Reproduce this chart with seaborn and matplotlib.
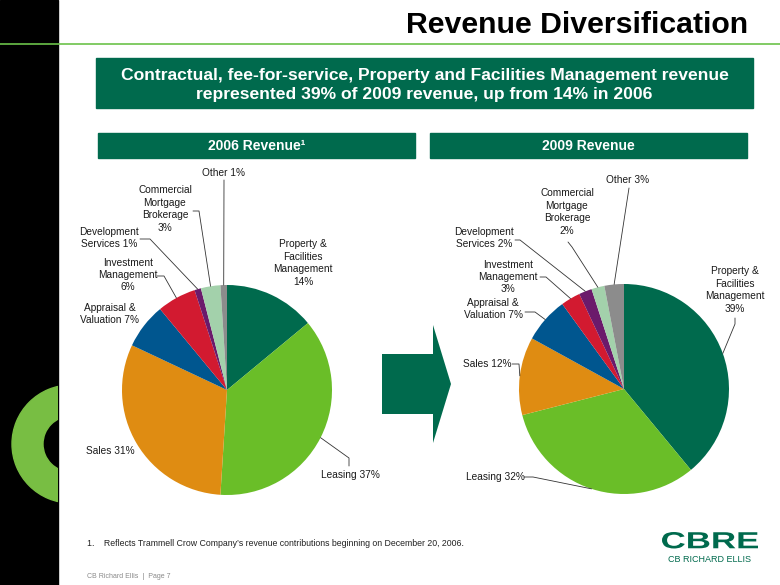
"""
CBRE slide: revenue diversification, 2006 vs 2009 segment mix.
"""

import numpy as np
import matplotlib
matplotlib.use("Agg")
import matplotlib.pyplot as plt
from matplotlib.patches import Rectangle, Wedge, FancyArrow, PathPatch
from matplotlib.textpath import TextPath
from matplotlib.font_manager import FontProperties
from matplotlib.transforms import Affine2D
import seaborn as sns

# ---- data ----
segments = ["Property & Facilities Management", "Leasing", "Sales", "Appraisal & Valuation",
            "Investment Management", "Development Services",
            "Commercial Mortgage Brokerage", "Other"]
label_formats = ["Property &\nFacilities\nManagement\n{}%", "Leasing {}%", "Sales {}%",
                 "Appraisal &\nValuation {}%", "Investment\nManagement\n{}%",
                 "Development\nServices {}%", "Commercial\nMortgage\nBrokerage\n{}%",
                 "Other {}%"]
revenue_2006 = [14, 37, 31, 7, 6, 1, 3, 1]
revenue_2009 = [39, 32, 12, 7, 3, 2, 2, 3]
segment_colors = ["#006A4D", "#6ABE28", "#DF8C12", "#00568F",
                  "#D21A30", "#6B1A6B", "#A3D1AB", "#8C8C8C"]

title = "Revenue Diversification"
headline = ("Contractual, fee-for-service, Property and Facilities Management revenue\n"
            "represented 39% of 2009 revenue, up from 14% in 2006")
panel_titles = ["2006 Revenue\u00b9", "2009 Revenue"]
footnote = "1.    Reflects Trammell Crow Company\u2019s revenue contributions beginning on December 20, 2006."
footer = "CB Richard Ellis  |  Page 7"

CBRE_GREEN = "#006A4D"
LIME = "#6CC24A"

# label layout in slide pixels: text centre, leader start, leader elbow
layout_2006 = [
    ((303, 263), None, None),
    ((350, 475), (349, 466), (349, 458)),
    ((110, 451), None, None),
    ((110, 314), None, None),
    ((128, 275), (157, 276), (164, 276)),
    ((109, 238), (140, 239), (150, 239)),
    ((165, 209), (193, 211), (199, 211)),
    ((223, 173), (224, 180), None),
]
layout_2009 = [
    ((735, 290), (735, 318), (735, 324)),
    ((495, 477), (524, 477), (533, 477)),
    ((487, 364), (512, 364), (519, 364)),
    ((493, 309), (525, 312), (535, 312)),
    ((508, 277), (540, 277), (546, 277)),
    ((484, 238), (515, 240), (520, 240)),
    ((567, 212), (568, 242), (572, 247)),
    ((628, 180), (629, 188), None),
]

sns.set_theme(style="white")
plt.rcParams['font.family'] = ['Liberation Sans', 'DejaVu Sans']


def draw_pie(ax, values, center, radius, layout):
    palette = sns.color_palette(segment_colors)
    # axes is y-down, so counterclock=True draws clockwise from the top
    wedges, _ = ax.pie(values, colors=palette, startangle=-90, counterclock=True,
                       center=center, radius=radius, frame=True,
                       wedgeprops=dict(linewidth=0))
    for w, v, fmt, (txt, start, elbow) in zip(wedges, values, label_formats, layout):
        ax.text(txt[0], txt[1], fmt.format(v), ha="center", va="center",
                fontsize=7.3, linespacing=1.3, color="#1a1a1a")
        if start is None:
            continue
        mid = np.deg2rad((w.theta1 + w.theta2) / 2)
        anchor = (center[0] + radius * np.cos(mid), center[1] + radius * np.sin(mid))
        pts = [start] + ([elbow] if elbow else []) + [anchor]
        xs, ys = zip(*pts)
        ax.plot(xs, ys, color="#333333", lw=0.6)


fig = plt.figure(figsize=(7.8, 5.85), dpi=100)
ax = fig.add_axes([0, 0, 1, 1])

# left black bar with the green ring
bar = Rectangle((0, 0), 58, 585, color="black", zorder=1)
ax.add_patch(bar)
ring = Wedge((71, 444), 59, 0, 360, width=31, color="#78BE43", zorder=2)
ax.add_patch(ring)
ring.set_clip_path(bar)

# title + rule
ax.text(748, 33, title, ha="right", va="baseline", fontsize=21.8, fontweight="bold", color="black")
ax.plot([0, 780], [43.5, 43.5], color=LIME, lw=1.2)

# headline banner
ax.add_patch(Rectangle((96, 58), 657, 50, color=CBRE_GREEN))
ax.text(424.5, 85, headline, ha="center", va="center", fontsize=12.6, fontweight="bold",
        color="white", linespacing=1.3)

# panel headers
for x0, label in zip([98, 430], panel_titles):
    ax.add_patch(Rectangle((x0, 133), 317, 25, color=CBRE_GREEN))
    ax.text(x0 + 158.5, 146, label, ha="center", va="center", fontsize=10,
            fontweight="bold", color="white")

draw_pie(ax, revenue_2006, (227, 390), 105, layout_2006)
draw_pie(ax, revenue_2009, (624, 389), 105, layout_2009)

# arrow between the pies
ax.add_patch(FancyArrow(382, 384, 69, 0, width=60, head_width=118, head_length=18,
                        length_includes_head=True, color=CBRE_GREEN, lw=0))

# footnote and footer
ax.text(87, 543, footnote, ha="left", va="center", fontsize=6.3, color="#222222")
ax.text(87, 576, footer, ha="left", va="center", fontsize=5, color="#8a8a8a")

# CBRE logo
fp = FontProperties(family="Liberation Sans", weight="bold")
tp = TextPath((0, 0), "CBRE", size=1, prop=fp)
ext = tp.get_extents()
trans = (Affine2D().translate(-ext.x0, -ext.y0)
         .scale(96 / ext.width, -16.5 / ext.height).translate(662, 548.5))
ax.add_patch(PathPatch(trans.transform_path(tp), color=CBRE_GREEN, lw=0))
ax.text(710, 560, "CB RICHARD ELLIS", ha="center", va="center", fontsize=6.5, color=CBRE_GREEN)

ax.set_xlim(0, 780)
ax.set_ylim(585, 0)
ax.axis("off")

fig.savefig("out.png", dpi=100)
